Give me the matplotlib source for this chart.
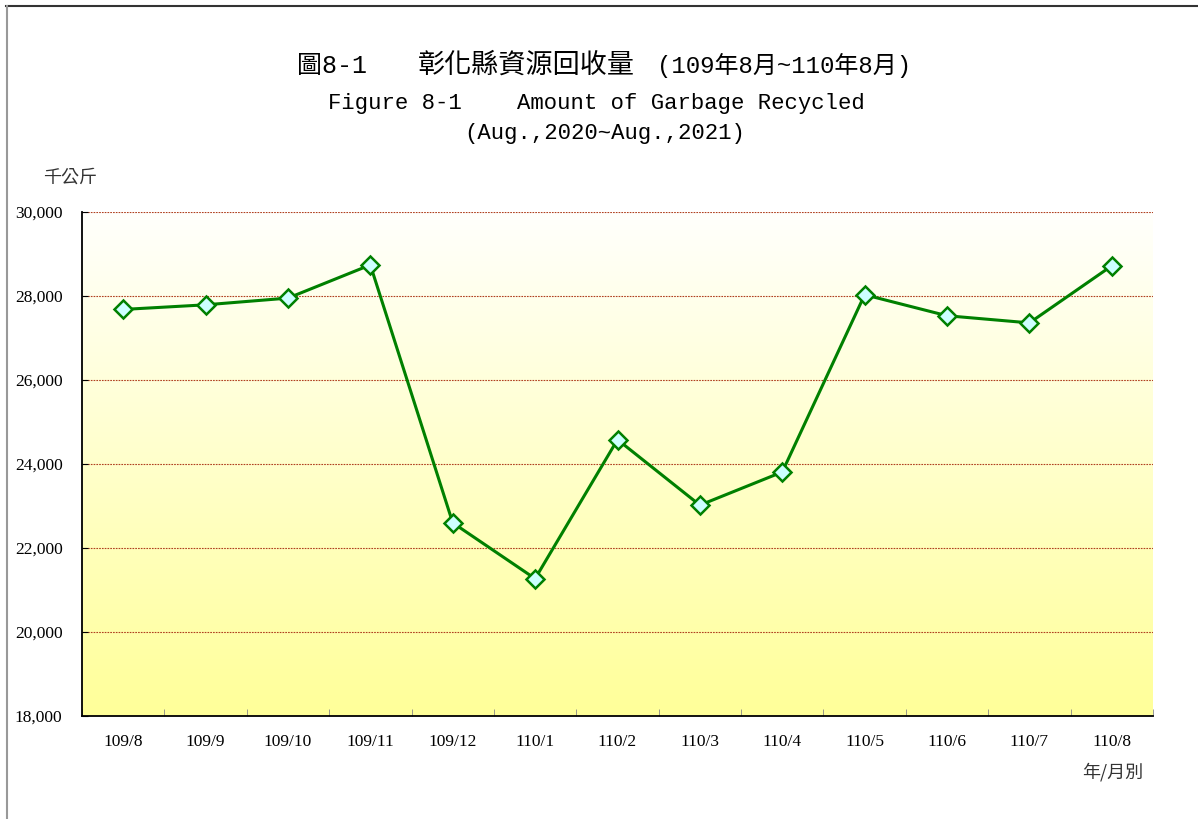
import numpy as np
import matplotlib.pyplot as plt
from matplotlib.lines import Line2D

months = ["109/8", "109/9", "109/10", "109/11", "109/12", "110/1", "110/2",
          "110/3", "110/4", "110/5", "110/6", "110/7", "110/8"]
recycled = [27680, 27790, 27950, 28740, 22600, 21270, 24580,
            23020, 23810, 28030, 27530, 27360, 28720]
yticks = [18000, 20000, 22000, 24000, 26000, 28000, 30000]

W, H = 1198, 819
fig = plt.figure(figsize=(W / 100, H / 100), dpi=100)
ax = fig.add_axes([82 / W, 1 - 716 / H, (1153 - 82) / W, (716 - 212) / H])

# gradient background: near white at top, pale yellow at bottom
grad = np.linspace(0, 1, 256).reshape(-1, 1)
top = np.array([1.0, 1.0, 0.99])
bot = np.array([1.0, 1.0, 0.60])
img = top + (bot - top) * grad[..., None]
ax.imshow(img, extent=[0, 1, 0, 1], transform=ax.transAxes, aspect="auto",
          zorder=0, origin="upper")

x = np.arange(len(months))
ax.plot(x, recycled, color="#008000", lw=2.2, zorder=3,
        marker="D", markersize=9, markerfacecolor="#CCFFFF",
        markeredgecolor="#008000", markeredgewidth=1.8)

ax.set_xlim(-0.5, len(months) - 0.5)
ax.set_ylim(18000, 30000)
ax.set_yticks(yticks)
ax.set_yticklabels([f"{v:,}" for v in yticks], fontfamily="Liberation Serif",
                   fontsize=12.5)
ax.set_xticks(x)
ax.set_xticklabels(months, fontfamily="Liberation Serif", fontsize=12.5)
ax.set_xticks(np.arange(len(months) + 1) - 0.5, minor=True)
ax.tick_params(axis="x", which="major", length=0, pad=13)
ax.tick_params(axis="x", which="minor", direction="in", length=5, color="#888888")
ax.tick_params(axis="y", direction="in", length=4, pad=14)

for v in yticks[1:]:
    ax.axhline(v, color="#B04020", lw=0.8, ls=(0, (1.5, 1)), zorder=1)

for s in ["top", "right"]:
    ax.spines[s].set_visible(False)
ax.spines["left"].set_linewidth(1.3)
ax.spines["bottom"].set_linewidth(1.3)

cjk = ["Liberation Mono", "Noto Sans CJK TC"]
fig.text(297 / W, 1 - 66 / H, "圖8-1", family=cjk, fontsize=18, va="center")
fig.text(418 / W, 1 - 66 / H, "彰化縣資源回收量", family=cjk, fontsize=19.5,
         va="center")
fig.text(657 / W, 1 - 66 / H, "(109年8月~110年8月)", family=cjk, fontsize=17.3,
         va="center", ha="left")
fig.text(328 / W, 1 - 103 / H, "Figure 8-1", family="Liberation Mono",
         fontsize=16, va="center")
fig.text(517 / W, 1 - 103 / H, "Amount of Garbage Recycled",
         family="Liberation Mono", fontsize=16, va="center")
fig.text(605 / W, 1 - 133 / H, "(Aug.,2020~Aug.,2021)", family="Liberation Mono",
         fontsize=16, va="center", ha="center")

fig.text(70 / W, 1 - 178 / H, "千公斤", family=["Noto Sans CJK TC"], fontsize=13,
         ha="center", va="center", color="#333333")
fig.text(1113 / W, 1 - 772 / H, "年/月別", family=["Noto Sans CJK TC", "DejaVu Sans"],
         fontsize=13, ha="center", va="center", color="#333333")

# outer frame (top and left edges)
fig.add_artist(Line2D([6 / W, 1197 / W], [1 - 6 / H, 1 - 6 / H],
                      transform=fig.transFigure, color="#333333", lw=1.5))
fig.add_artist(Line2D([7 / W, 7 / W], [0, 1 - 6 / H],
                      transform=fig.transFigure, color="#999999", lw=1.5))

fig.savefig("out.png", dpi=100)
